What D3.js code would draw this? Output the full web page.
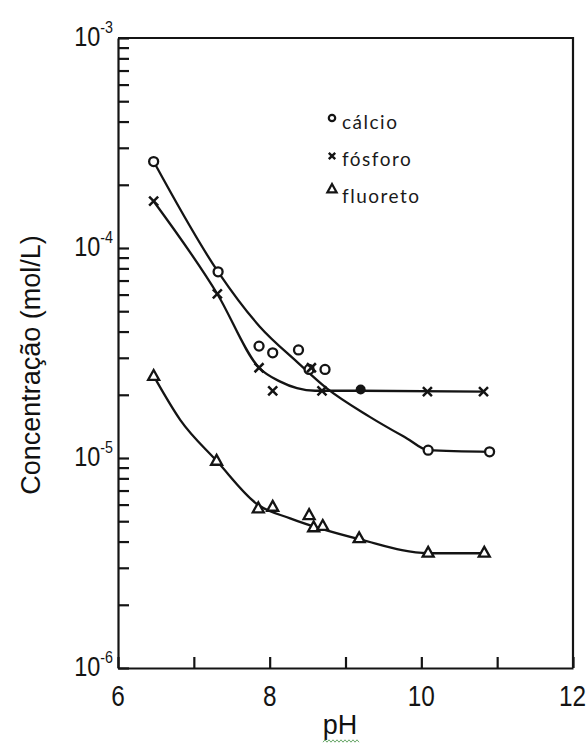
<!DOCTYPE html>
<html>
<head>
<meta charset="utf-8">
<script src="https://cdn.jsdelivr.net/npm/d3@7"></script>
<style>
  html, body { margin: 0; padding: 0; background: #fff; }
  svg { display: block; }
</style>
</head>
<body>
<svg id="chart" width="587" height="745"></svg>
<script>
// Measured points: pH and concentration (mol/L)
const calcioPH   = [6.47, 7.32, 7.86, 8.04, 8.38, 8.52, 8.73, 10.09, 10.90];
const calcioConc = [2.58e-4, 7.7e-5, 3.41e-5, 3.17e-5, 3.27e-5, 2.64e-5, 2.64e-5, 1.09e-5, 1.07e-5];

const fosforoPH   = [6.47, 7.31, 7.86, 8.04, 8.55, 8.69, 10.08, 10.82];
const fosforoConc = [1.67e-4, 6.04e-5, 2.69e-5, 2.09e-5, 2.69e-5, 2.09e-5, 2.07e-5, 2.07e-5];
const fosforoFilledPH   = [9.2];
const fosforoFilledConc = [2.12e-5];

const fluoretoPH   = [6.47, 7.30, 7.85, 8.04, 8.52, 8.58, 8.70, 9.18, 10.09, 10.83];
const fluoretoConc = [2.46e-5, 9.7e-6, 5.76e-6, 5.86e-6, 5.35e-6, 4.68e-6, 4.75e-6, 4.15e-6, 3.54e-6, 3.54e-6];

// Hand-fitted trend curves through the data
const calcioCurvePH   = [6.47, 7.32, 7.87, 8.36, 8.75, 9.32, 9.81, 10.09, 10.90];
const calcioCurveConc = [2.58e-4, 7.7e-5, 4.22e-5, 2.87e-5, 2.15e-5, 1.57e-5, 1.24e-5, 1.09e-5, 1.07e-5];

const fosforoCurvePH   = [6.47, 7.31, 7.86, 8.14, 8.36, 8.6, 9.2, 10.82];
const fosforoCurveConc = [1.67e-4, 6.04e-5, 2.69e-5, 2.31e-5, 2.15e-5, 2.09e-5, 2.09e-5, 2.07e-5];

const fluoretoCurvePH   = [6.47, 6.82, 7.30, 7.85, 8.27, 9.19, 10.09, 10.83];
const fluoretoCurveConc = [2.46e-5, 1.52e-5, 9.7e-6, 5.97e-6, 5.16e-6, 4.10e-6, 3.52e-6, 3.52e-6];

// Axis ticks and labels
const xTickValues = [6, 7, 8, 9, 10, 11, 12];
const xLabelValues = [6, 8, 10, 12];
const xLabels = ["6", "8", "10", "12"];
const yExponents = [-3, -4, -5, -6];

const legendLabels = ["cálcio", "fósforo", "fluoreto"];
const xTitle = "pH";
const yTitle = "Concentração (mol/L)";

const W = 587;
const svg = d3.select("#chart");
const ink = "#141414";

const x = d3.scaleLinear().domain([6, 12]).range([118, 573]);
const y = d3.scaleLog().domain([1e-6, 1e-3]).range([668, 38]);

// Minor + major ticks on the log axis (1..9 per decade)
const yTickValues = [];
for (let e = -6; e < -3; e++) {
  for (let m = 1; m <= 9; m++) yTickValues.push(m * Math.pow(10, e));
}
yTickValues.push(1e-3);

const axisStyle = g => {
  g.selectAll("path.domain").attr("stroke", ink).attr("stroke-width", 2.2);
  g.selectAll(".tick line").attr("stroke", ink).attr("stroke-width", 2.2);
  g.selectAll(".tick text").remove();
};

svg.append("g")
  .attr("transform", `translate(0,${y(1e-6)})`)
  .call(d3.axisBottom(x).tickValues(xTickValues).tickSizeInner(-11).tickSizeOuter(0).tickFormat(""))
  .call(axisStyle);

svg.append("g")
  .attr("transform", `translate(${x(6)},0)`)
  .call(d3.axisLeft(y).tickValues(yTickValues).tickSizeInner(-11).tickSizeOuter(0).tickFormat(""))
  .call(axisStyle);

// Top and right frame
svg.append("path")
  .attr("d", `M${x(6)},${y(1e-3)}H${x(12)}V${y(1e-6)}`)
  .attr("fill", "none").attr("stroke", ink).attr("stroke-width", 2.2);

// Tick labels (horizontally condensed digits)
const tickFont = "'Liberation Sans', Arial, sans-serif";
const squeeze = 0.84;
const xl = svg.append("g").selectAll("text")
  .data(xLabelValues)
  .join("text")
  .attr("text-anchor", "middle")
  .attr("font-family", tickFont)
  .attr("font-size", 29)
  .attr("fill", ink)
  .text((d, i) => xLabels[i]);
xl.attr("transform", function (d) {
  const half = this.getComputedTextLength() * squeeze / 2;
  const cx = Math.min(x(d), W - 1 - half);
  return `translate(${cx},706) scale(${squeeze},1)`;
});

const yLab = svg.append("g").selectAll("text")
  .data(yExponents)
  .join("text")
  .attr("transform", d => `translate(113,${y(Math.pow(10, d)) + 8}) scale(${squeeze},1)`)
  .attr("text-anchor", "end")
  .attr("font-family", tickFont)
  .attr("font-size", 28)
  .attr("fill", ink);
yLab.append("tspan").text("10");
yLab.append("tspan").attr("dy", -13).attr("font-size", 17).text(d => String(d));

// Axis titles
const titleFont = "'Liberation Sans', Arial, sans-serif";
svg.append("text")
  .attr("transform", "translate(40,365) rotate(-90)")
  .attr("text-anchor", "middle")
  .attr("font-family", titleFont)
  .attr("font-size", 27)
  .attr("fill", "#111")
  .text(yTitle);

svg.append("text")
  .attr("x", 340)
  .attr("y", 734)
  .attr("text-anchor", "middle")
  .attr("font-family", titleFont)
  .attr("font-size", 27)
  .attr("fill", "#111")
  .text(xTitle);

// wavy underline below the axis title
const wave = d3.range(0, 19).map(i => [323 + i * 2, 741 + (i % 2 ? -1.2 : 1.2)]);
svg.append("path")
  .attr("d", d3.line()(wave))
  .attr("fill", "none").attr("stroke", "#6aa86a").attr("stroke-width", 1);

// Trend curves
const curve = d3.line().x(d => x(d[0])).y(d => y(d[1])).curve(d3.curveMonotoneX);
const zip = (a, b) => a.map((v, i) => [v, b[i]]);
[[calcioCurvePH, calcioCurveConc], [fosforoCurvePH, fosforoCurveConc], [fluoretoCurvePH, fluoretoCurveConc]]
  .forEach(([px, py]) => {
    svg.append("path")
      .attr("d", curve(zip(px, py)))
      .attr("fill", "none")
      .attr("stroke", ink)
      .attr("stroke-width", 2.3);
  });

// Marker shapes
const triPath = s => `M0,${-s * 0.62}L${s * 0.58},${s * 0.42}L${-s * 0.58},${s * 0.42}Z`;
const crossPath = s => `M${-s},${-s}L${s},${s}M${-s},${s}L${s},${-s}`;

svg.append("g").selectAll("circle")
  .data(zip(calcioPH, calcioConc))
  .join("circle")
  .attr("cx", d => x(d[0])).attr("cy", d => y(d[1])).attr("r", 4.5)
  .attr("fill", "#fff").attr("stroke", ink).attr("stroke-width", 2.3);

svg.append("g").selectAll("path")
  .data(zip(fosforoPH, fosforoConc))
  .join("path")
  .attr("transform", d => `translate(${x(d[0])},${y(d[1])})`)
  .attr("d", crossPath(4.5))
  .attr("fill", "none").attr("stroke", ink).attr("stroke-width", 2.5);

svg.append("g").selectAll("circle")
  .data(zip(fosforoFilledPH, fosforoFilledConc))
  .join("circle")
  .attr("cx", d => x(d[0])).attr("cy", d => y(d[1])).attr("r", 5)
  .attr("fill", ink);

svg.append("g").selectAll("path")
  .data(zip(fluoretoPH, fluoretoConc))
  .join("path")
  .attr("transform", d => `translate(${x(d[0])},${y(d[1])})`)
  .attr("d", triPath(9.5))
  .attr("fill", "#fff").attr("stroke", ink).attr("stroke-width", 2.3);

// Legend
const legendFont = "Lato, 'Open Sans', sans-serif";
const legend = svg.append("g");
const rows = legendLabels.map((t, i) => ({ t, i }));
legend.selectAll("text")
  .data(rows)
  .join("text")
  .attr("x", 342)
  .attr("y", d => 129 + d.i * 37)
  .attr("font-family", legendFont)
  .attr("font-size", 19)
  .attr("letter-spacing", 1.5)
  .attr("fill", "#1a1a1a")
  .text(d => d.t);

legend.append("circle").attr("cx", 332).attr("cy", 118).attr("r", 3.2)
  .attr("fill", "#fff").attr("stroke", ink).attr("stroke-width", 2.2);
legend.append("path").attr("transform", "translate(332,156)").attr("d", crossPath(3.2))
  .attr("fill", "none").attr("stroke", ink).attr("stroke-width", 2.4);
legend.append("path").attr("transform", "translate(332,189)").attr("d", triPath(8))
  .attr("fill", "#fff").attr("stroke", ink).attr("stroke-width", 2.2);
</script>
</body>
</html>
